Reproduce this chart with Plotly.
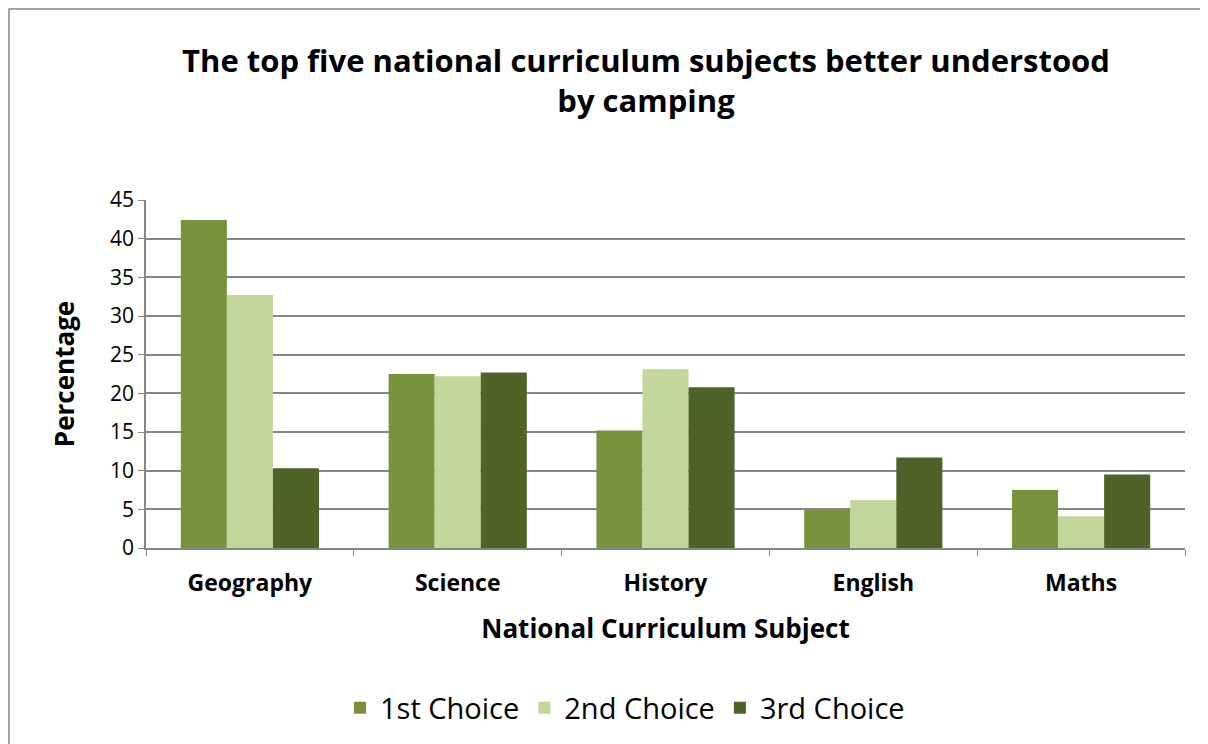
import plotly.graph_objects as go

categories = ["Geography", "Science", "History", "English", "Maths"]
first_choice = [42.4, 22.5, 15.2, 4.9, 7.5]
second_choice = [32.7, 22.2, 23.1, 6.2, 4.1]
third_choice = [10.3, 22.7, 20.8, 11.7, 9.5]
series_names = ["1st Choice", "2nd Choice", "3rd Choice"]
colors = ["#77933C", "#C3D69B", "#4F6228"]

FONT = "Open Sans"

fig = go.Figure()
for name, vals, col in zip(series_names, [first_choice, second_choice, third_choice], colors):
    fig.add_trace(go.Bar(x=categories, y=vals, name=name, marker_color=col,
                         marker_line_width=0))

L, R, T, B = 138, 31, 192, 204
PW, PH = 1208 - L - R, 744 - T - B

fig.update_layout(
    width=1208, height=744,
    paper_bgcolor="white", plot_bgcolor="white",
    margin=dict(l=L, r=R, t=T, b=B),
    barmode="group", bargap=0.335, bargroupgap=0,
    font=dict(family=FONT, color="black"),
    title=dict(text="<b>The top five national curriculum subjects better understood<br>by camping</b>",
               x=638/1208, xanchor="center", y=1 - 64/744, yanchor="top",
               font=dict(size=31, family=FONT)),
    xaxis=dict(showline=True, linecolor="#868686", linewidth=1.5,
               ticks="outside", tickson="boundaries", ticklen=6, tickcolor="#868686",
               tickfont=dict(size=23, family=FONT), ticklabelstandoff=14,
               title=dict(text="<b>National Curriculum Subject</b>", font=dict(size=26), standoff=22)),
    yaxis=dict(range=[0, 45], dtick=5, showgrid=True, gridcolor="#868686", gridwidth=1.5,
               showline=True, linecolor="#868686", linewidth=1.5,
               ticks="outside", ticklen=6, tickcolor="#868686",
               tickfont=dict(size=21, family=FONT),
               title=dict(text="<b>Percentage</b>", font=dict(size=26), standoff=28)),
    legend=dict(orientation="h", x=(617 - L) / PW, xanchor="center", y=-(700 - T - PH) / PH,
                yanchor="middle", font=dict(size=29, family=FONT), itemwidth=30),
)
fig.update_xaxes(tickprefix="<b>", ticksuffix="</b>")
fig.add_shape(type="rect", xref="paper", yref="paper",
              x0=-(L - 1) / PW, x1=1 + (R - 15) / PW, y0=-(B - 1) / PH, y1=1 + (T - 1) / PH,
              line=dict(color="#868686", width=1.5))

fig.write_html("out.html")
